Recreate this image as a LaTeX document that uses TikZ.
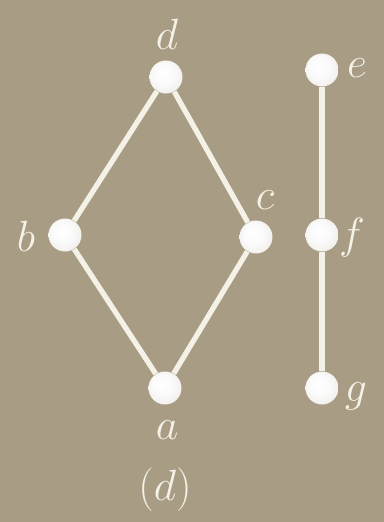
\documentclass[tikz,border=0pt]{standalone}
\definecolor{bgtan}{RGB}{168,156,132}
\definecolor{chalk}{RGB}{244,241,230}
\pgfdeclareradialshading{pearl}{\pgfpoint{-6bp}{6bp}}{%
  color(0bp)=(white); color(16bp)=(white!96!gray); color(34bp)=(white!80!bgtan);
  color(45bp)=(white!62!bgtan); color(50bp)=(white!40!bgtan)}
\begin{document}
\begin{tikzpicture}[
  x=0.02cm, y=-0.02cm,
  vtx/.style={circle,minimum size=0.66cm,inner sep=0pt,shading=pearl},
  lbl/.style={text=chalk,font=\fontsize{30}{34}\selectfont}
]
  \fill[bgtan] (0,0) rectangle (384,522);
  \node[vtx] (d) at (166,77)  {};
  \node[vtx] (b) at (65,235)  {};
  \node[vtx] (c) at (256,237) {};
  \node[vtx] (a) at (165,388) {};
  \node[vtx] (e) at (322,70)  {};
  \node[vtx] (f) at (322,235) {};
  \node[vtx] (g) at (322,388) {};
  \begin{scope}[line width=3pt, chalk]
    \draw (d)--(b); \draw (d)--(c);
    \draw (b)--(a); \draw (c)--(a);
    \draw (e)--(f); \draw (f)--(g);
  \end{scope}
  \node[lbl] (ld) at (167,34)  {$d$};
  \node[lbl] (lb) at (26,236)  {$b$};
  \node[lbl] (lc) at (265,200) {$c$};
  \node[lbl] (la) at (167,430) {$a$};
  \node[lbl] (le) at (357,68)  {$e$};
  \node[lbl] (lf) at (352,238) {$f$};
  \node[lbl] (lg) at (356,396) {$g$};
  \node[lbl] (cap) at (165,490) {$(d)$};
\end{tikzpicture}
\end{document}
